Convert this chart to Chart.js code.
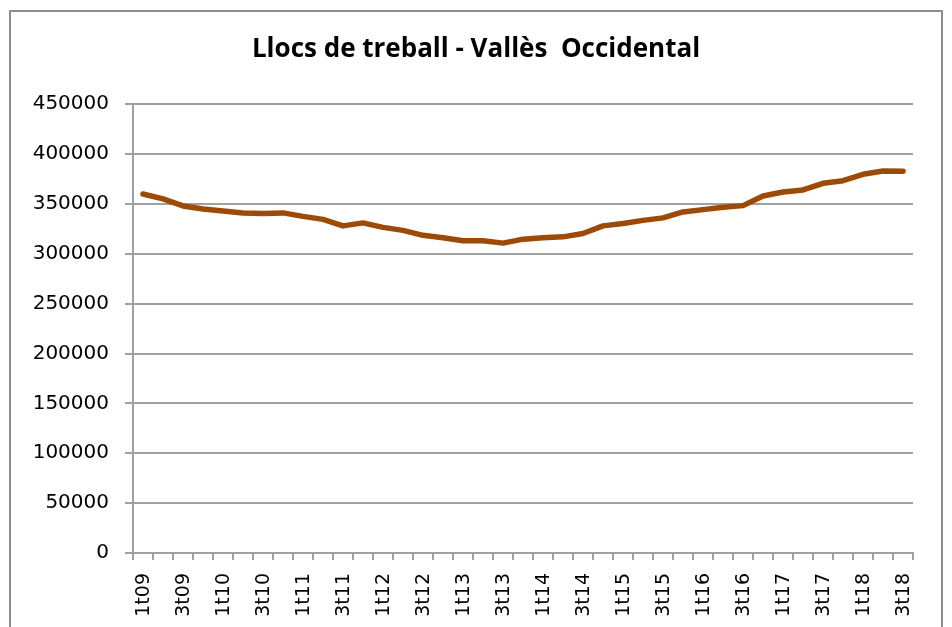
<!DOCTYPE html>
<html>
<head>
<meta charset="utf-8">
<script src="https://cdn.jsdelivr.net/npm/chart.js@4/dist/chart.umd.min.js"></script>
<style>
  html, body { margin: 0; padding: 0; background: #fff; }
  #wrap { width: 952px; height: 627px; }
</style>
</head>
<body>
<div id="wrap"><canvas id="llocsChart" width="952" height="627"></canvas></div>
<script>
// quarters 1t09 .. 3t18
const quarters = [
    "1t09", "2t09", "3t09", "4t09",
    "1t10", "2t10", "3t10", "4t10",
    "1t11", "2t11", "3t11", "4t11",
    "1t12", "2t12", "3t12", "4t12",
    "1t13", "2t13", "3t13", "4t13",
    "1t14", "2t14", "3t14", "4t14",
    "1t15", "2t15", "3t15", "4t15",
    "1t16", "2t16", "3t16", "4t16",
    "1t17", "2t17", "3t17", "4t17",
    "1t18", "2t18", "3t18"
];

// llocs de treball
const llocsTreball = [
    360000, 355000, 348000, 345000,
    343000, 341000, 340500, 341000,
    337500, 334500, 328000, 331000,
    326500, 323500, 318500, 316000,
    313000, 313000, 310700, 314700,
    316000, 317000, 320300, 328000,
    330300, 333500, 336000, 342000,
    344300, 346700, 348300, 358000,
    362000, 364000, 370700, 373300,
    379700, 383000, 382700
];

const yTicks = [0, 50000, 100000, 150000, 200000, 250000, 300000, 350000, 400000, 450000];

const chartTitle = "Llocs de treball - Vallès  Occidental";

const gridColor = '#a0a0a0';

// white background + outer frame like the Excel chart border
const framePlugin = {
    id: 'frame',
    beforeDraw(chart) {
        const ctx = chart.ctx;
        ctx.save();
        ctx.fillStyle = '#fff';
        ctx.fillRect(0, 0, chart.width, chart.height);
        ctx.strokeStyle = '#8c8c8c';
        ctx.lineWidth = 2;
        ctx.beginPath();
        ctx.moveTo(10, chart.height + 5);
        ctx.lineTo(10, 11);
        ctx.lineTo(942, 11);
        ctx.lineTo(942, chart.height + 5);
        ctx.stroke();
        ctx.restore();
    }
};

// x labels read bottom-to-top, every other quarter
const xLabelsPlugin = {
    id: 'xLabels',
    afterDraw(chart) {
        const xScale = chart.scales.x;
        const ctx = chart.ctx;
        ctx.save();
        ctx.font = '19px "DejaVu Sans"';
        ctx.fillStyle = '#000';
        ctx.textAlign = 'right';
        ctx.textBaseline = 'middle';
        quarters.forEach((q, i) => {
            if (i % 2 !== 0) return;
            const x = xScale.getPixelForTick(i);
            ctx.save();
            ctx.translate(x + 1, xScale.top + 20);
            ctx.rotate(-Math.PI / 2);
            ctx.fillText(q, 0, 0);
            ctx.restore();
        });
        ctx.restore();
    }
};

const ctx = document.getElementById('llocsChart').getContext('2d');

new Chart(ctx, {
    type: 'line',
    data: {
        labels: quarters,
        datasets: [
            {
                label: 'Llocs de treball',
                data: llocsTreball,
                borderColor: '#9c4a06',
                borderWidth: 5.5,
                pointRadius: 0,
                tension: 0,
                fill: false,
                borderCapStyle: 'round',
                borderJoinStyle: 'round'
            }
        ]
    },
    options: {
        responsive: false,
        animation: false,
        devicePixelRatio: 1,
        layout: {
            padding: 0
        },
        plugins: {
            legend: {display: false},
            tooltip: {enabled: false},
            title: {
                display: true,
                text: chartTitle,
                color: '#000',
                font: {family: '"Open Sans"', size: 26, weight: 'bold'},
                padding: {top: 34, bottom: 39}
            }
        },
        scales: {
            x: {
                type: 'category',
                offset: true,
                border: {display: true, color: gridColor, width: 2},
                grid: {
                    offset: true,
                    drawOnChartArea: false,
                    drawTicks: true,
                    tickLength: 7,
                    color: gridColor,
                    lineWidth: 2
                },
                ticks: {display: false, autoSkip: false},
                afterFit(scale) {
                    scale.height = 74;
                }
            },
            y: {
                min: 0,
                max: 450000,
                border: {display: true, color: gridColor, width: 2},
                grid: {
                    color: gridColor,
                    lineWidth: 2,
                    drawTicks: true,
                    tickLength: 8
                },
                afterBuildTicks(scale) {
                    scale.ticks = yTicks.map(v => ({value: v}));
                },
                ticks: {
                    color: '#000',
                    padding: 16,
                    font: {family: '"DejaVu Sans"', size: 20},
                    callback: (v) => String(v)
                },
                afterFit(scale) {
                    scale.width = 133;
                }
            },
            // empty right-hand strip so the title stays centred on the whole canvas
            yRight: {
                position: 'right',
                display: true,
                border: {display: false},
                grid: {display: false},
                ticks: {display: false},
                afterFit(scale) {
                    scale.width = 39;
                }
            }
        }
    },
    plugins: [framePlugin, xLabelsPlugin]
});
</script>
</body>
</html>
